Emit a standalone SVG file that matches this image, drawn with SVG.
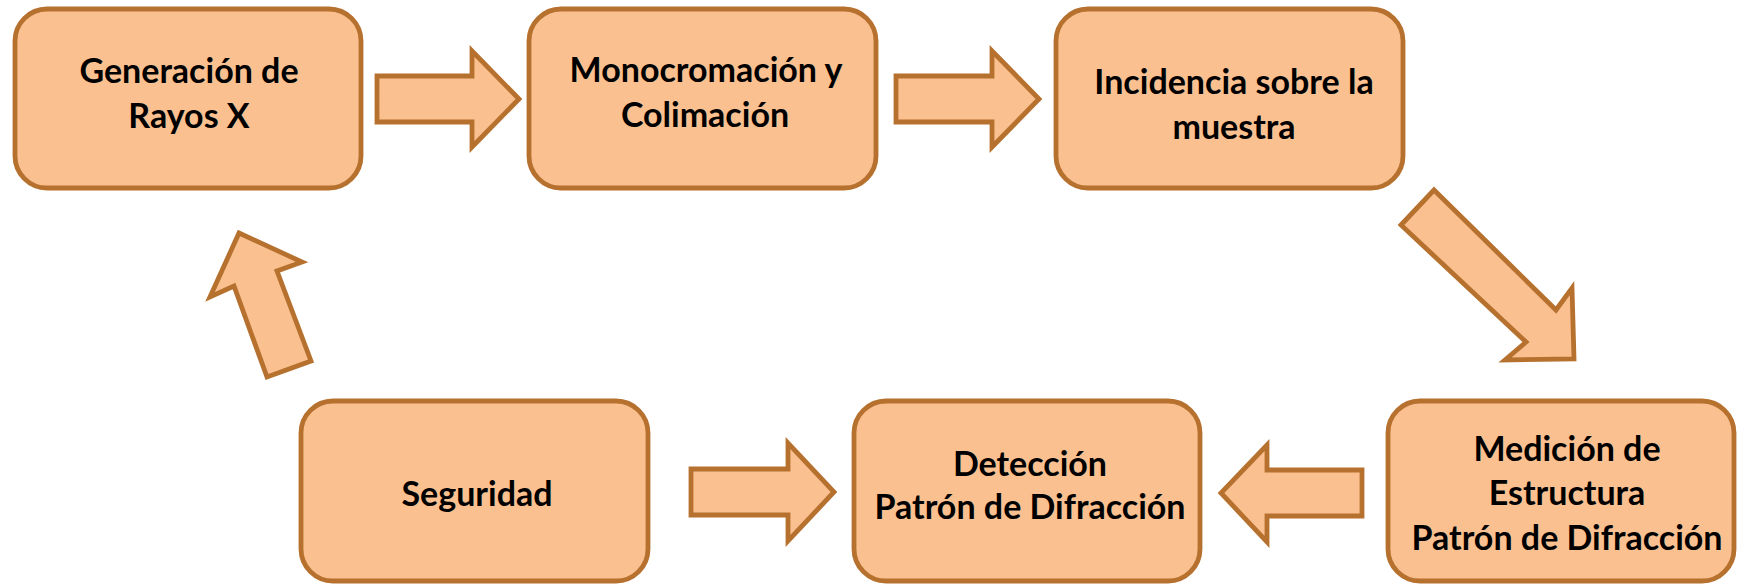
<svg xmlns="http://www.w3.org/2000/svg" width="1744" height="585" viewBox="0 0 1744 585">
<style>
.box{fill:#FAC090;stroke:#B7712F;stroke-width:4.8}
.arr{fill:#FAC090;stroke:#B7712F;stroke-width:4.8;stroke-linejoin:miter}
.t{font-family:Lato,"Open Sans","DejaVu Sans",sans-serif;font-weight:bold;font-size:34px;fill:#000;text-anchor:middle}
</style>
<rect width="1744" height="585" fill="#fff"/>
<g id="connectors">
<polygon class="arr" points="377,76 472,76 472,51 519,99 472,147 472,122 377,122"/>
<polygon class="arr" points="896,76 992,76 992,51 1039,99 992,147 992,122 896,122"/>
<polygon class="arr" points="1434,190 1556,310 1572,288 1574,359 1505,360 1526,342 1401,225"/>
<polygon class="arr" points="1362,470 1267,470 1267,445 1221,493 1267,542 1267,516 1362,516"/>
<polygon class="arr" points="691,469 788,469 788,443 834,492 788,541 788,515 691,515"/>
<polygon class="arr" points="239,233 302,262 277,271 311,361 267,377 234,286 210,297"/>
</g>
<g id="n1">
<rect class="box" x="15" y="9" width="346" height="179" rx="32"/>
<text class="t" x="189" y="83">Generación de</text>
<text class="t" x="189" y="128">Rayos X</text>
</g>
<g id="n2">
<rect class="box" x="529" y="9" width="347" height="179" rx="32"/>
<text class="t" x="706" y="82">Monocromación y</text>
<text class="t" x="705" y="127">Colimación</text>
</g>
<g id="n3">
<rect class="box" x="1056" y="9" width="347" height="179" rx="32"/>
<text class="t" x="1234" y="94">Incidencia sobre la</text>
<text class="t" x="1234" y="139">muestra</text>
</g>
<g id="n4">
<rect class="box" x="1388" y="401" width="346" height="180" rx="32"/>
<text class="t" x="1567" y="461">Medición de</text>
<text class="t" x="1567" y="505">Estructura</text>
<text class="t" x="1567" y="550">Patrón de Difracción</text>
</g>
<g id="n5">
<rect class="box" x="854" y="401" width="346" height="180" rx="32"/>
<text class="t" x="1030" y="476">Detección</text>
<text class="t" x="1030" y="519">Patrón de Difracción</text>
</g>
<g id="n6">
<rect class="box" x="301" y="401" width="347" height="180" rx="32"/>
<text class="t" x="477" y="506">Seguridad</text>
</g>
</svg>
